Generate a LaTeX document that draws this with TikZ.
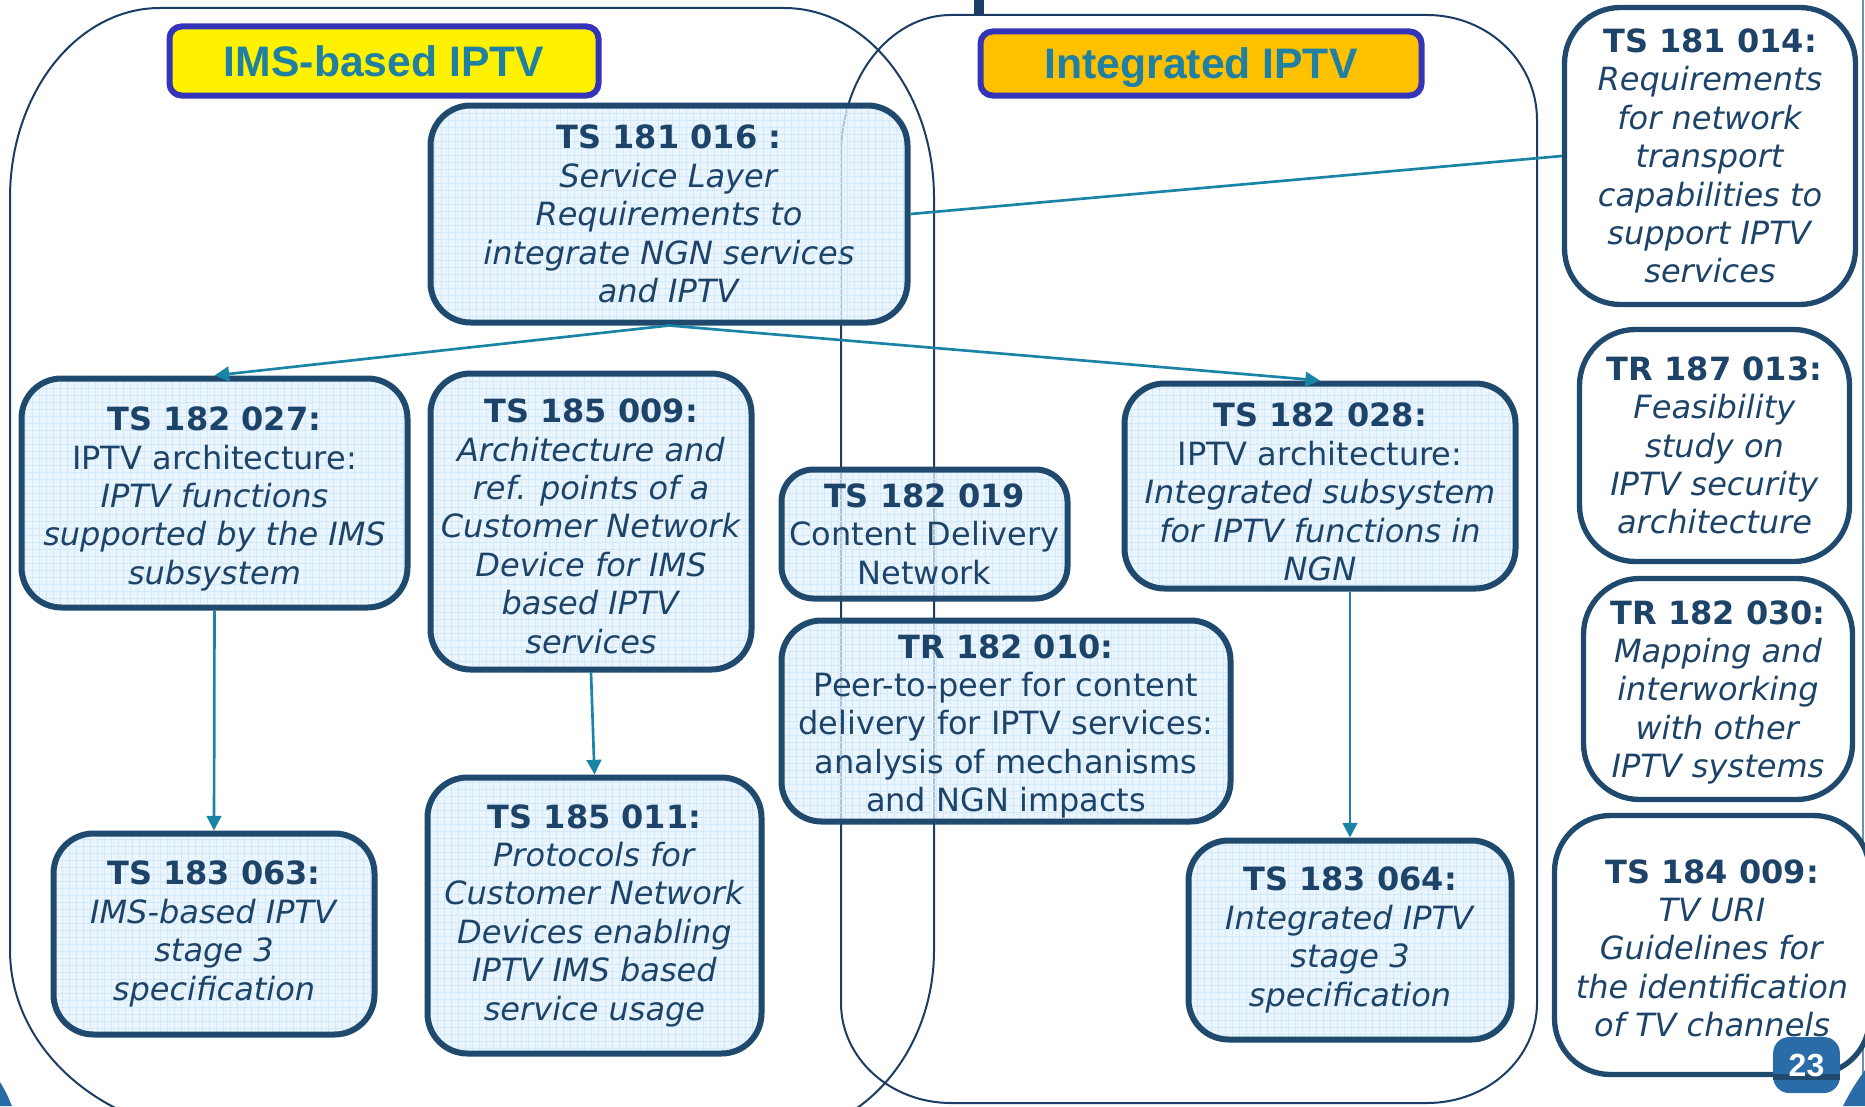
\documentclass[tikz,border=0pt]{standalone}
\usepackage{fontspec}
\setmainfont{DejaVu Sans}
\newfontfamily\arialf{Liberation Sans}
\usetikzlibrary{arrows.meta}
\definecolor{navy}{HTML}{1B3D63}
\definecolor{boxb}{HTML}{1F4A6E}
\definecolor{txt}{HTML}{1D4468}
\definecolor{connc}{HTML}{1A84A6}
\definecolor{fillb}{HTML}{E3F1FC}
\definecolor{gridc}{HTML}{D2E9F9}
\definecolor{ttl}{HTML}{1F80A3}
\definecolor{ttlb}{HTML}{3434B8}
\definecolor{badgec}{HTML}{2A6CA8}
\definecolor{decoline}{HTML}{6F8FB5}
\tikzset{
  gbox/.style={draw=boxb, line width=4.5pt, rounded corners=30pt, fill=fillb, fill opacity=0.75, text opacity=1, draw opacity=1,
    text=txt, align=center, inner sep=0pt, font=\fontsize{24pt}{28.8pt}\selectfont,
    path picture={\draw[gridc, line width=0.6pt] (path picture bounding box.south west) grid[step=5.25pt] (path picture bounding box.north east);}},
  wbox/.style={draw=boxb, line width=4pt, rounded corners=42pt, fill=white, text=txt, align=center, inner sep=0pt,
    font=\fontsize{24pt}{28.8pt}\selectfont},
  tx/.style={text=txt, align=center, inner sep=0pt, font=\fontsize{24pt}{28.8pt}\selectfont},
  conn/.style={draw=connc, line width=2pt},
  arr/.style={conn, -{Triangle[length=11pt,width=11pt]}},
  region/.style={draw=navy, line width=1.5pt},
  ttlbox/.style={draw=ttlb, line width=4.5pt, rounded corners=9pt, text=ttl, inner sep=0pt,
    text height=23pt, text depth=0pt,
    font=\arialf\bfseries\fontsize{32pt}{36pt}\selectfont}
}
\begin{document}
\begin{tikzpicture}[x=0.75pt,y=-0.75pt]
\useasboundingbox (0,0) rectangle (1865,1106);
% slide decorations
\fill[navy] (974,0) rectangle (984,15);
\draw[decoline, line width=1pt] (1863,0) -- (1863,1080);
\fill[badgec] (1843,1106) .. controls (1852,1088) and (1858,1080) .. (1865,1070) -- (1865,1106) -- cycle;
\fill[badgec] (0,1082) .. controls (6,1092) .. (12,1106) -- (0,1106) -- cycle;
% regions
\draw[region] (10,198) .. controls (10,93) and (77,8) .. (160,8) -- (784,8)
  .. controls (867,8) and (934,93) .. (934,198) -- (934,950)
  .. controls (934,1052) and (862,1135) .. (774,1135) -- (230,1135)
  .. controls (108,1135) and (10,1052) .. (10,950) -- cycle;
\draw[region] (841,155) .. controls (841,78) and (890,15) .. (951,15) -- (1427,15)
  .. controls (1488,15) and (1537,62) .. (1537,120) -- (1537,1003)
  .. controls (1537,1058) and (1488,1103) .. (1427,1103) -- (951,1103)
  .. controls (890,1103) and (841,1058) .. (841,1003) -- cycle;
% titles
\node[ttlbox, fill=yellow, minimum width=321.75pt, minimum height=51.75pt] (t1) at (384,61) {IMS-based IPTV};
\node[ttlbox, fill={rgb,255:red,255;green,192;blue,0}, minimum width=330.75pt, minimum height=48pt] (t2) at (1201,63.5) {Integrated IPTV};
% grid boxes
\node[gbox, minimum width=357.75pt, minimum height=162.75pt] (b016) at (669,214)
  {\textbf{TS 181 016 :}\\ \textit{Service Layer}\\ \textit{Requirements to}\\ \textit{integrate NGN services}\\ \textit{and IPTV}};
\node[gbox, minimum width=289.5pt, minimum height=171.75pt] (b027) at (214.5,493) {};
\node[tx] (b027t) at ([yshift=-4.5pt]b027.center)
  {\textbf{TS 182 027:}\\ IPTV architecture:\\ \textit{IPTV functions}\\ \textit{supported by the IMS}\\ \textit{subsystem}};
\node[gbox, minimum width=240.75pt, minimum height=222pt] (b009) at (591,521.5) {};
\node[tx] (b009t) at ([yshift=-3.5pt]b009.center)
  {\textbf{TS 185 009:}\\ \textit{Architecture and}\\ \textit{ref. points of a}\\ \textit{Customer Network}\\ \textit{Device for IMS}\\ \textit{based IPTV}\\ \textit{services}};
\node[gbox, rounded corners=24pt, minimum width=214.5pt, minimum height=96.75pt] (b019) at (924.5,534)
  {\textbf{TS 182 019}\\ Content Delivery\\ Network};
\node[gbox, minimum width=336.75pt, minimum height=150.75pt] (b010) at (1006,721) {};
\node[tx] (b010t) at ([yshift=-4pt]b010.center)
  {\textbf{TR 182 010:}\\ Peer-to-peer for content\\ delivery for IPTV services:\\ analysis of mechanisms\\ and NGN impacts};
\node[gbox, minimum width=293.25pt, minimum height=153.75pt] (b028) at (1320,486) {};
\node[tx] (b028t) at ([yshift=-4.5pt]b028.center)
  {\textbf{TS 182 028:}\\ IPTV architecture:\\ \textit{Integrated subsystem}\\ \textit{for IPTV functions in}\\ \textit{NGN}};
\node[gbox, minimum width=240.75pt, minimum height=150.75pt] (b063) at (214,934)
  {\textbf{TS 183 063:}\\ \textit{IMS-based IPTV}\\ \textit{stage 3}\\ \textit{specification}};
\node[gbox, minimum width=250.5pt, minimum height=207pt] (b011) at (594.5,915.5)
  {\textbf{TS 185 011:}\\ \textit{Protocols for}\\ \textit{Customer Network}\\ \textit{Devices enabling}\\ \textit{IPTV IMS based}\\ \textit{service usage}};
\node[gbox, minimum width=242.25pt, minimum height=149.25pt] (b064) at (1350,940)
  {\textbf{TS 183 064:}\\ \textit{Integrated IPTV}\\ \textit{stage 3}\\ \textit{specification}};
% white boxes
\node[wbox, minimum width=218.25pt, minimum height=222.75pt] (b014) at (1710,156)
  {\textbf{TS 181 014:}\\ \textit{Requirements}\\ \textit{for network}\\ \textit{transport}\\ \textit{capabilities to}\\ \textit{support IPTV}\\ \textit{services}};
\node[wbox, minimum width=202.5pt, minimum height=174pt] (b013) at (1714.5,445.5)
  {\textbf{TR 187 013:}\\ \textit{Feasibility}\\ \textit{study on}\\ \textit{IPTV security}\\ \textit{architecture}};
\node[wbox, minimum width=201.75pt, minimum height=165.75pt] (b030) at (1718,689) {};
\node[tx] (b030t) at ([yshift=-2.5pt]b030.center)
  {\textbf{TR 182 030:}\\ \textit{Mapping and}\\ \textit{interworking}\\ \textit{with other}\\ \textit{IPTV systems}};
\node[wbox, minimum width=236.25pt, minimum height=194.25pt] (b184) at (1712,945) {};
\node[tx] (b184t) at ([yshift=-2.5pt]b184.center)
  {\textbf{TS 184 009:}\\ \textit{TV URI}\\ \textit{Guidelines for}\\ \textit{the identification}\\ \textit{of TV channels}};
% connectors
\draw[arr] (b016.south) -- (b027.north);
\draw[arr] (b016.south) -- (b028.north);
\draw[conn] (b016.east) -- (b014.west);
\draw[arr] (b027.south) -- (b063.north);
\draw[arr] (b009.south) -- (b011.north);
\draw[arr] (b028.south -| b064.north) -- (b064.north);
% badge
\node[fill=badgec, rounded corners=12pt, minimum width=50pt, minimum height=42pt, inner sep=0pt] (badge) at (1806.5,1065) {};
\draw[boxb, line width=4pt] (badge.west |- 0,1077) -- (badge.east |- 0,1077);
\node[text=white, font=\arialf\bfseries\fontsize{24pt}{28pt}\selectfont, inner sep=0pt] (badgetxt) at (badge.center) {23};
\end{tikzpicture}
\end{document}
